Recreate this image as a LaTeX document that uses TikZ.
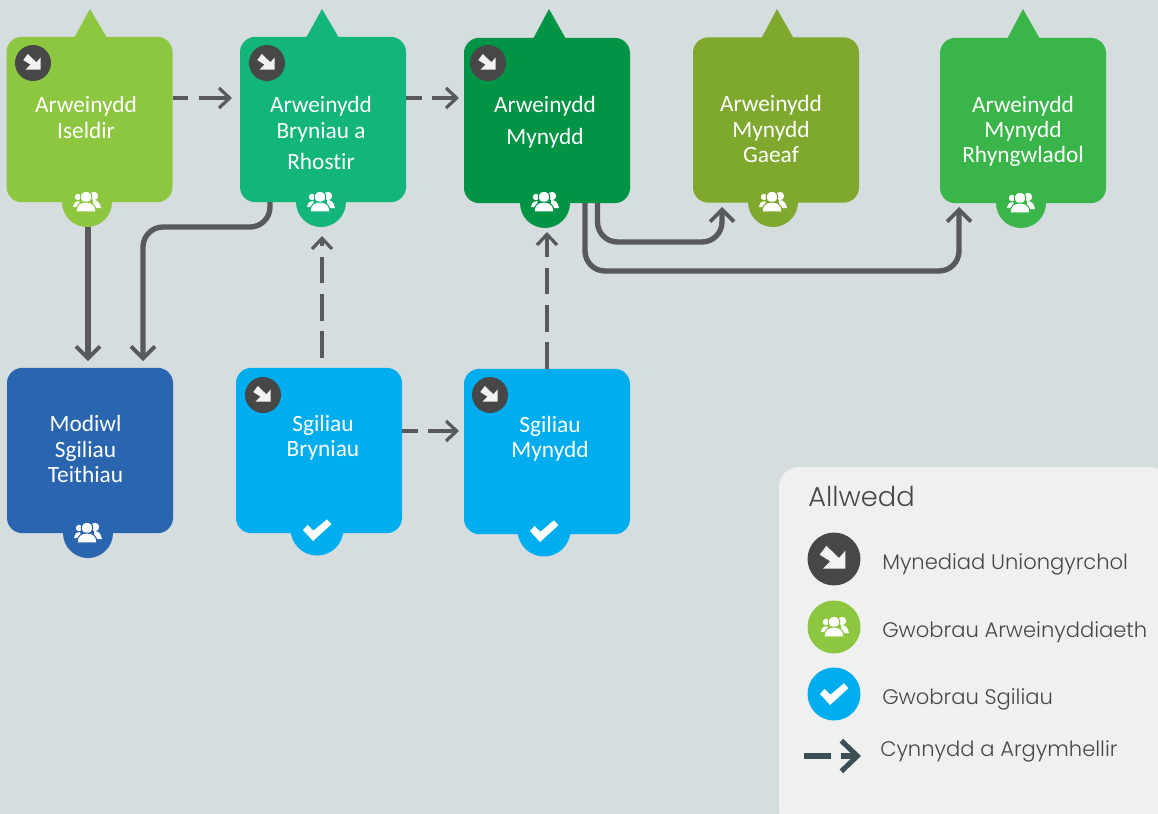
\documentclass[tikz,border=0pt]{standalone}
\usepackage{fontspec}
\setmainfont{Carlito}[Ligatures=NoCommon]
\newfontfamily\keyfont{Poppins Light}
\usetikzlibrary{arrows.meta,backgrounds}
\definecolor{pagegrey}{HTML}{D5DDDF}
\definecolor{keygrey}{HTML}{EFF1F0}
\definecolor{linegrey}{HTML}{58595B}
\definecolor{icongrey}{HTML}{474747}
\definecolor{keydark}{HTML}{3C4F55}
\definecolor{lowland}{HTML}{8DC63F}
\definecolor{hillgreen}{HTML}{12B57A}
\definecolor{mountgreen}{HTML}{009444}
\definecolor{wintergreen}{HTML}{7FA82F}
\definecolor{intlgreen}{HTML}{39B54A}
\definecolor{modblue}{HTML}{2A65B0}
\definecolor{skillblue}{HTML}{00AEEF}
\tikzset{
  award/.style = {draw = none, rounded corners = 11.5, minimum width = 124.5, minimum height = 124, inner sep = 0pt},
  awardtext/.style = {text = white, align = center, font = \fontsize{17.5}{19}\selectfont},
  keytext/.style = {text = icongrey, anchor = west, inner sep = 0pt, font = \keyfont\fontsize{15.8}{19}\selectfont},
  progress/.style = {draw = linegrey, line width = 4, -{Straight Barb[length = 9, width = 18, line width = 2.8]}},
  dashline/.style = {draw = linegrey, line width = 3.6, -{Straight Barb[length = 8, width = 15, line width = 2.4]}, dash pattern = on 11.5 off 8 on 40 off 0},
  longdash/.style = {draw = linegrey, line width = 3.4, -{Straight Barb[length = 8, width = 15, line width = 2.4]}, dash pattern = on 20 off 8},
  pics/peoplemark/.style = {code = {
    \fill[white] (-9,-5) circle (3.2) (7,-6) circle (4.2);
    \fill[white] (-14,5) .. controls (-13,0) and (-11,-1) .. (-8,-1) -- (-6,5) -- cycle;
    \fill[white] (14,6) .. controls (13,0) and (10,-2) .. (6,-2) -- (6,6) -- cycle;
    \filldraw[white, draw = #1, line width = 0.8] (-1,-5) circle (5.8);
    \filldraw[white, draw = #1, line width = 0.8] (-11,10) .. controls (-11,3) and (-7,0) .. (-1,0) .. controls (5,0) and (9,3) .. (9,10) -- cycle;
  }},
  pics/checkmark/.style = {code = {
    \fill[white] (-14,0) -- (-9.5,-5) -- (-3.5,0.7) -- (10,-10.7) -- (14.3,-5.7) -- (-4,11) -- cycle;
  }},
  pics/entrymark/.style = {code = {
    \fill[icongrey] (0,0) circle (18);
    \fill[white!95!black] (-9.7,-2.9) -- (-5.2,-9) -- (3.4,-0.7) -- (7.7,-5.6) -- (7.7,6.5) -- (-7.4,6.5) -- (-2.5,1.6) -- cycle;
  }}
}
\begin{document}
\begin{tikzpicture}[x = 0.75pt, y = -0.75pt]
\useasboundingbox (0,0) rectangle (1158,814);
\fill[pagegrey] (0,0) rectangle (1158,814);

% tabs under the boxes
\fill[lowland] (74,38) -- (90,9) -- (107,38) -- cycle (87,202) circle (25);
\fill[hillgreen] (306,38) -- (322,9) -- (339,38) -- cycle (321,202) circle (25);
\fill[mountgreen] (533,39) -- (549,9) -- (566,39) -- cycle (545,203) circle (25);
\fill[wintergreen] (761,39) -- (777,9) -- (794,39) -- cycle (773,202) circle (25);
\fill[intlgreen] (1007,39) -- (1023,9) -- (1040,39) -- cycle (1021,203) circle (25);
\fill[modblue] (88,533) circle (25);
\fill[skillblue] (317,529) circle (26.5) (544,530) circle (26.5);

% boxes
\node[award, fill = lowland] (iseldir) at (89.5,119.5) {};
\node[award, fill = hillgreen] (bryniau) at (323,119.5) {};
\node[award, fill = mountgreen] (mynydd) at (547,120.5) {};
\node[award, fill = wintergreen] (gaeaf) at (776,120) {};
\node[award, fill = intlgreen] (rhyngwladol) at (1023,120.5) {};
\node[award, fill = modblue] (modiwl) at (90,450.5) {};
\node[award, fill = skillblue] (sbryniau) at (319,450.5) {};
\node[award, fill = skillblue] (smynydd) at (547,451.5) {};

% box texts
\node[awardtext] (t1) at (86,117.5) {Arweinydd\\Iseldir};
\node[awardtext] (t2) at (321,133) {Arweinydd\\Bryniau a\\[4.5pt]Rhostir};
\node[awardtext, font = \fontsize{17.5}{24}\selectfont] (t3) at (545,122) {Arweinydd\\Mynydd};
\node[awardtext] (t4) at (771,129) {Arweinydd\\Mynydd\\Gaeaf};
\node[awardtext] (t5) at (1023,131.5) {Arweinydd\\Mynydd\\Rhyngwladol};
\node[awardtext] (t6) at (85.5,449) {Modiwl\\Sgiliau\\Teithiau};
\node[awardtext] (t7) at (323,438) {Sgiliau\\Bryniau};
\node[awardtext] (t8) at (550,439) {Sgiliau\\Mynydd};

% marks
\foreach \px/\py in {33/63, 267/63, 488/63, 263/395, 490/395}
  \pic at (\px,\py) {entrymark};
\pic at (87,202) {peoplemark=lowland};
\pic at (321,202) {peoplemark=hillgreen};
\pic at (545,202) {peoplemark=mountgreen};
\pic at (773,202) {peoplemark=wintergreen};
\pic at (1021,203) {peoplemark=intlgreen};
\pic at (88,533) {peoplemark=modblue};
\foreach \px/\py in {317/530, 544/531}
  \pic at (\px,\py) {checkmark};

% connectors
\coordinate (a1) at (iseldir.east |- 0,98);
\coordinate (a2) at (232,98);
\coordinate (b1) at (bryniau.east |- 0,98);
\coordinate (b2) at (459,98);
\coordinate (c1) at (sbryniau.east |- 0,431);
\coordinate (c2) at (459,431);
\draw[dashline] (a1) -- (a2);
\draw[dashline] (b1) -- (b2);
\draw[dashline] (c1) -- (c2);
\coordinate (d1) at (322,358);
\coordinate (d2) at (322,236);
\coordinate (e1) at (547,369);
\coordinate (e2) at (547,232);
\draw[longdash] (d1) -- (d2);
\draw[longdash] (e1) -- (e2);
\coordinate (f1) at (88,227);
\coordinate (f2) at (88,361);
\coordinate (g1) at (270,202);
\coordinate (g2) at (143,361);
\coordinate (h1) at (597.5,203);
\coordinate (h2) at (722,207);
\coordinate (i1) at (585,203);
\coordinate (i2) at (959,207);
\draw[progress] (f1) -- (f2);
\draw[progress, rounded corners = 15] (g1) |- (143,227) -- (g2);
\draw[progress, rounded corners = 15] (h1) |- (722,242) -- (h2);
\draw[progress, rounded corners = 15] (i1) |- (959,271) -- (i2);

% key
\fill[keygrey, rounded corners = 15] (779,467) rectangle (1170,830);
\node[keytext, font = \keyfont\fontsize{20.5}{24}\selectfont] (keytitle) at (808,496) {Allwedd};
\pic[scale = 1.47] at (834,559) {entrymark};
\fill[lowland] (834,627) circle (26.5);
\pic at (835,627) {peoplemark=lowland};
\fill[skillblue] (834,694) circle (26.5);
\pic at (834,694) {checkmark};
\node[keytext] (k1) at (882,564) {Mynediad Uniongyrchol};
\node[keytext] (k2) at (882,632) {Gwobrau Arweinyddiaeth};
\node[keytext] (k3) at (882,699) {Gwobrau Sgiliau};
\node[keytext] (k4) at (880,751) {Cynnydd a Argymhellir};
\coordinate (k5) at (804,756);
\coordinate (k6) at (861,756);
\draw[draw = keydark, line width = 5.2, -{Straight Barb[length = 12, width = 23, line width = 3.8]}, dash pattern = on 20 off 8 on 30 off 0] (k5) -- (k6);
\end{tikzpicture}
\end{document}
